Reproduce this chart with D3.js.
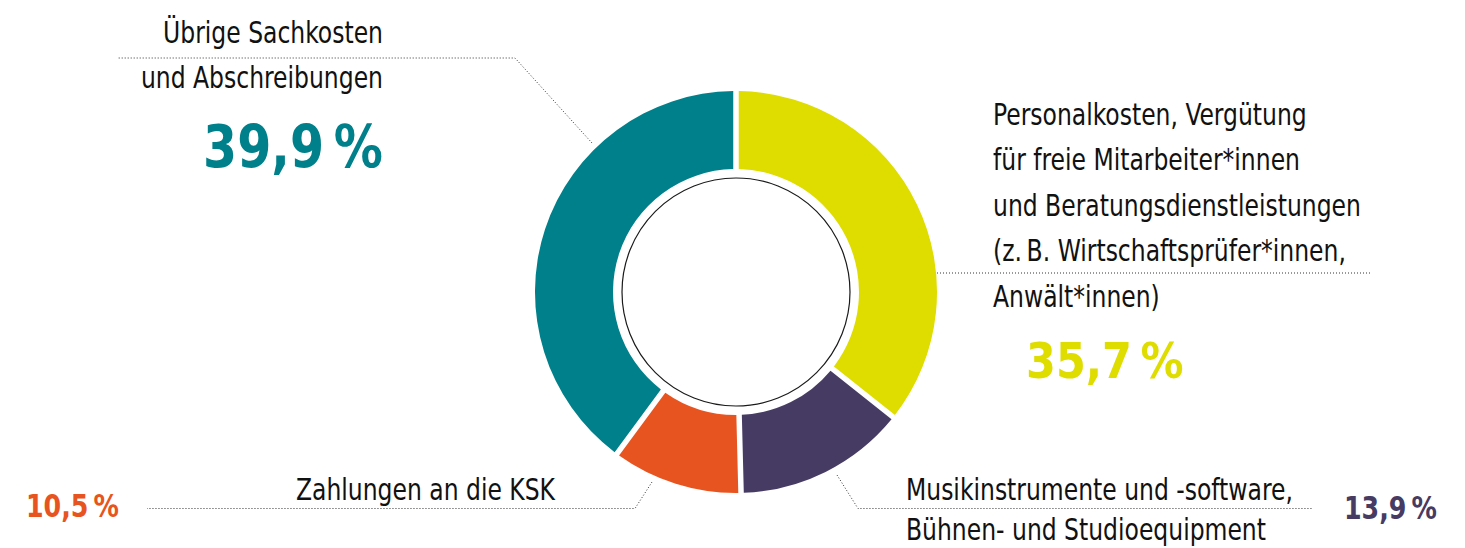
<!DOCTYPE html>
<html><head><meta charset="utf-8">
<script src="https://cdn.jsdelivr.net/npm/d3@7"></script>
<style>
html,body{margin:0;padding:0;background:#fff;}
svg{display:block;}
.lbl{font-family:"Liberation Sans Narrow","DejaVu Sans Condensed",sans-serif;font-size:30px;fill:#111;}
.pct{font-family:"Liberation Sans Narrow","DejaVu Sans Condensed",sans-serif;font-weight:bold;}
</style></head>
<body>
<svg id="c" width="1465" height="548"></svg>
<script>
// ---- data ----
const categories = [
  "Personalkosten, Vergütung für freie Mitarbeiter*innen und Beratungsdienstleistungen (z. B. Wirtschaftsprüfer*innen, Anwält*innen)",
  "Musikinstrumente und -software, Bühnen- und Studioequipment",
  "Zahlungen an die KSK",
  "Übrige Sachkosten und Abschreibungen"
];
const values = [35.7, 13.9, 10.5, 39.9];
const labelLines = [
  ["Personalkosten, Vergütung", "für freie Mitarbeiter*innen", "und Beratungsdienstleistungen", "(z.\u2009B. Wirtschaftsprüfer*innen,", "Anwält*innen)"],
  ["Musikinstrumente und -software,", "Bühnen- und Studioequipment"],
  ["Zahlungen an die KSK"],
  ["Übrige Sachkosten", "und Abschreibungen"]
];
const colors = ["#dfdc00", "#463b63", "#e85420", "#00808a"];

// ---- layout ----
const cx = 736, cy = 292, R = 201, r0 = 123, rRing = 114, gap = 5.5;
const textScale = 0.87;
const fmt = v => d3.format(".1f")(v).replace(".", ",") + "\u2009%";

const layout = [
  {anchor:"start", x:993, y0:125, dy:45.5, px:1026, py:378, pSize:50, pScale:0.955,
   leader:[[937,273],[1370,273]]},
  {anchor:"start", x:906, y0:500, dy:40, px:1344, py:519, pSize:32, pScale:0.88,
   leader:[[837,475],[858,508.5],[1312,508.5]]},
  {anchor:"end", x:555, y0:500, dy:40, px:26, py:517, pSize:32, pScale:0.88, pAnchor:"start",
   leader:[[652,482],[635,508.5],[147,508.5]]},
  {anchor:"end", x:383, y0:43, dy:45.5, px:383, py:167, pSize:58, pScale:0.94, pAnchor:"end",
   leader:[[592,143],[515,58],[118,58]]}
];

const svg = d3.select("#c");
const g = svg.append("g").attr("transform", `translate(${cx},${cy})`);

const pie = d3.pie().sort(null).value(d => d).startAngle(0).endAngle(2*Math.PI);
const arc = d3.arc().innerRadius(r0).outerRadius(R).padRadius(R).padAngle(gap/R);

g.selectAll("path.slice").data(pie(values)).join("path")
  .attr("class","slice")
  .attr("d", arc)
  .attr("fill", (d,i) => colors[i]);

g.append("circle").attr("r", rRing).attr("fill","#fff")
  .attr("stroke","#1a1a1a").attr("stroke-width",1.2);

// leaders
const line = d3.line();
svg.selectAll("path.leader").data(layout).join("path")
  .attr("class","leader")
  .attr("d", d => line(d.leader))
  .attr("fill","none").attr("stroke","#333").attr("stroke-width",1)
  .attr("stroke-dasharray","1,2");

// labels
labelLines.forEach((lines,i) => {
  const L = layout[i];
  const t = svg.append("text").attr("class","lbl")
    .attr("transform", `translate(${L.x},0) scale(${textScale},1)`)
    .attr("text-anchor", L.anchor);
  lines.forEach((s,j) => {
    t.append("tspan").attr("x", 0).attr("y", L.y0 + j*L.dy).text(s);
  });
  svg.append("text").attr("class","pct")
    .attr("transform", `translate(${L.px},${L.py}) scale(${L.pScale},1)`)
    .attr("text-anchor", L.pAnchor || "start")
    .attr("font-size", L.pSize)
    .attr("fill", colors[i])
    .text(fmt(values[i]));
});
</script>
</body></html>
